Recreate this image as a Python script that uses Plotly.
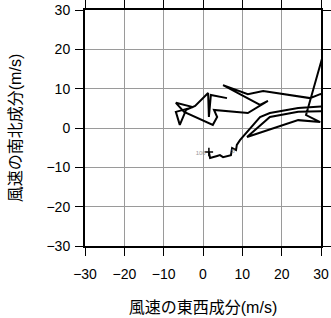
import plotly.graph_objects as go

# Hodograph: east-west (u) and north-south (v) wind components, m/s
u = [1.5, 1.8, 3.6, 4.3, 5.1, 7.1, 7.4, 8.4, 8.6, 9.4, 14.5, 17.0, 24.2, 32.3, 32.3,
     24.2, 17.0, 11.2, 24.2, 29.8, 26.2, 32.3, 33.6, 29.8, 27.2, 15.3, 11.4, 5.1,
     14.5, 16.5, 11.4, 2.8, 3.6, 2.5, -4.8, -6.9, -2.5, -6.9, -5.9, -4.3, -2.0,
     1.3, 1.5, 2.0, 6.1]
v = [-6.1, -7.6, -7.1, -6.9, -7.4, -6.9, -5.1, -5.6, -4.3, -3.1, 2.8, 3.8, 5.1, 5.6, 4.3,
     4.1, 2.8, -2.3, 2.0, 1.5, 3.3, 24.9, 9.7, 8.6, 7.6, 9.4, 8.6, 10.9,
     5.9, 6.9, 3.8, 4.6, 2.8, 0.8, 4.1, 6.4, 5.3, 4.1, 0.8, 4.6, 5.6,
     8.9, 2.8, 8.4, 7.6]

label_text = ["100", "5"]
label_u = [-0.6, 7.7]
label_v = [-6.6, -6.1]

ticks = [-30, -20, -10, 0, 10, 20, 30]
xtitle = "風速の東西成分(m/s)"
ytitle = "風速の南北成分(m/s)"

font_family = "Liberation Sans, Arial, Noto Sans CJK JP, sans-serif"

fig = go.Figure()
fig.add_trace(go.Scatter(x=u, y=v, mode="lines",
                         line=dict(color="black", width=2),
                         showlegend=False, hoverinfo="skip"))
fig.add_trace(go.Scatter(x=[u[0]], y=[v[0]], mode="markers",
                         marker=dict(symbol="cross-thin", size=6,
                                     line=dict(color="black", width=1.5)),
                         showlegend=False, hoverinfo="skip"))
fig.add_trace(go.Scatter(x=label_u, y=label_v, mode="text", text=label_text,
                         textfont=dict(size=6, color="#999999", family=font_family),
                         showlegend=False, hoverinfo="skip"))

axis_common = dict(
    range=[-30, 30], tickvals=ticks, ticktext=[str(t).replace("-", "\u2212") for t in ticks],
    showgrid=True, gridcolor="#9a9a9a", gridwidth=1,
    zeroline=False,
    showline=True, linecolor="black", linewidth=2, mirror="ticks",
    ticks="outside", ticklen=8, tickwidth=1, tickcolor="black",
    tickfont=dict(size=14, color="black", family=font_family),
    fixedrange=True, automargin=False,
)

fig.update_xaxes(**axis_common,
                 title=dict(text=xtitle, font=dict(size=16, color="black", family=font_family),
                            standoff=21),
                 ticklabelstandoff=6)
fig.update_yaxes(**axis_common,
                 title=dict(text=ytitle, font=dict(size=16, color="black", family=font_family),
                            standoff=21),
                 ticklabelstandoff=2)

fig.update_layout(
    width=331, height=318,
    margin=dict(l=85, r=10, t=10, b=72, autoexpand=False),
    paper_bgcolor="white", plot_bgcolor="white",
    font=dict(family=font_family, color="black"),
)

fig.write_html("out.html")
